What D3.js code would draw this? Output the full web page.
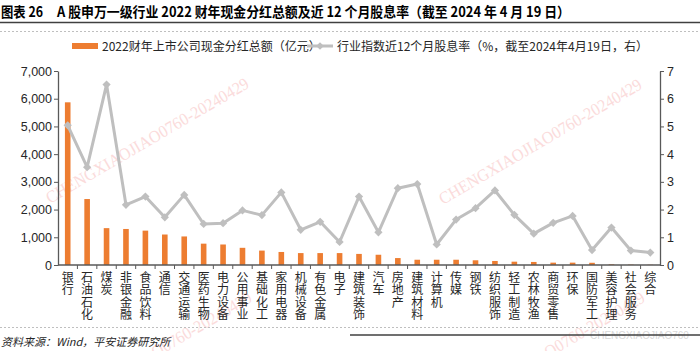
<!DOCTYPE html>
<html>
<head>
<meta charset="utf-8">
<script src="https://cdn.jsdelivr.net/npm/d3@7"></script>
<style>
  body { margin: 0; background: white; }
  svg { display: block; font-family: "Noto Sans CJK SC", "Noto Sans", sans-serif; }
</style>
</head>
<body>
<div id="container"></div>
<script>
let w = 700;
let h = 351;

// data
let industries = ["银行","石油石化","煤炭","非银金融","食品饮料","通信","交通运输","医药生物","电力设备","公用事业",
  "基础化工","家用电器","机械设备","有色金属","电子","建筑装饰","汽车","房地产","建筑材料","计算机",
  "传媒","钢铁","纺织服饰","轻工制造","农林牧渔","商贸零售","环保","国防军工","美容护理","社会服务","综合"];
let dividends = [5870,2380,1330,1300,1240,1100,1030,770,740,620,
  520,470,430,430,430,400,370,250,190,190,
  190,170,145,120,110,85,85,80,25,15,10];
let yields = [5.04,3.53,6.51,2.17,2.47,1.72,2.53,1.48,1.51,1.97,
  1.80,2.62,1.27,1.56,0.83,2.47,1.18,2.77,2.92,0.74,
  1.64,2.05,2.69,1.81,1.13,1.52,1.77,0.54,1.35,0.52,0.45];
let leftTicks = [0,1000,2000,3000,4000,5000,6000,7000];
let rightTicks = [0,1,2,3,4,5,6,7];

let titleNo = "图表 26";
let titleText = "A 股申万一级行业 2022 财年现金分红总额及近 12 个月股息率（截至 2024 年 4 月 19 日）";
let legendBar = "2022财年上市公司现金分红总额（亿元）";
let legendLine = "行业指数近12个月股息率（%，截至2024年4月19日，右）";
let sourceText = "资料来源：Wind，平安证券研究所";
let wmText = "CHENGXIAOJIAO0760-20240429";

let orange = "#ED7D31";
let grey = "#BFBFBF";
let axisColor = "#595959";

let viz = d3.select("#container")
  .append("svg")
    .attr("width", w)
    .attr("height", h)
;

// header
viz.append("text")
  .attr("x", 1).attr("y", 17)
  .attr("font-size", 14).attr("font-weight", "bold")
  .attr("textLength", 42).attr("lengthAdjust", "spacingAndGlyphs")
  .attr("fill", "#000")
  .text(titleNo);
viz.append("text")
  .attr("x", 57).attr("y", 17)
  .attr("font-size", 14).attr("font-weight", "bold")
  .attr("textLength", 513).attr("lengthAdjust", "spacingAndGlyphs")
  .attr("fill", "#000")
  .text(titleText);
viz.append("line").attr("x1", 0).attr("x2", w).attr("y1", 22.5).attr("y2", 22.5)
  .attr("stroke", "#404040").attr("stroke-width", 1.5);
viz.append("line").attr("x1", 0).attr("x2", w).attr("y1", 31.5).attr("y2", 31.5)
  .attr("stroke", "#BFBFBF").attr("stroke-dasharray", "2,2");

// scales
let x = d3.scaleBand().domain(industries).range([58, 660]);
let yL = d3.scaleLinear().domain([0, 7000]).range([265, 71]);
let yR = d3.scaleLinear().domain([0, 7]).range([265, 71]);

// watermarks
let wmSpots = [[50, 204], [443, 205], [53, 418], [446, 418]];
viz.selectAll(".wm").data(wmSpots).enter()
  .append("text")
    .classed("wm", true)
    .attr("transform", d => "translate(" + d[0] + "," + d[1] + ") rotate(-30.3)")
    .attr("font-family", "Liberation Serif, serif")
    .attr("font-size", 17)
    .attr("textLength", 232).attr("lengthAdjust", "spacingAndGlyphs")
    .attr("fill", "#F9C4C4").attr("opacity", 0.6)
    .text(wmText);

// bars
viz.selectAll(".bar").data(dividends).enter()
  .append("rect")
    .classed("bar", true)
    .attr("x", (d, i) => x(industries[i]) + x.bandwidth() / 2 - 2.8)
    .attr("width", 5.6)
    .attr("y", d => yL(d))
    .attr("height", d => yL(0) - yL(d))
    .attr("fill", orange);

// line
let line = d3.line()
  .x((d, i) => x(industries[i]) + x.bandwidth() / 2)
  .y(d => yR(d));
viz.append("path")
  .datum(yields)
  .attr("d", line)
  .attr("fill", "none")
  .attr("stroke", grey)
  .attr("stroke-width", 3)
  .attr("stroke-linejoin", "round");
viz.selectAll(".mark").data(yields).enter()
  .append("path")
    .classed("mark", true)
    .attr("d", d3.symbol(d3.symbolSquare, 34))
    .attr("transform", (d, i) => "translate(" + (x(industries[i]) + x.bandwidth() / 2) + "," + yR(d) + ") rotate(45)")
    .attr("fill", grey);

// axes
let leftAxis = viz.append("g")
  .attr("transform", "translate(58,0)")
  .call(d3.axisLeft(yL).tickValues(leftTicks).tickFormat(d3.format(",")).tickSize(4).tickSizeOuter(0));
let rightAxis = viz.append("g")
  .attr("transform", "translate(660,0)")
  .call(d3.axisRight(yR).tickValues(rightTicks).tickFormat(d3.format("d")).tickSize(4).tickSizeOuter(0));
[leftAxis, rightAxis].forEach(function(g){
  g.select(".domain").attr("stroke", axisColor).attr("stroke-width", 1.3);
  g.selectAll(".tick line").attr("stroke", axisColor);
  g.selectAll(".tick text")
    .attr("font-family", "Liberation Sans, Arial, sans-serif")
    .attr("font-size", 12.5)
    .attr("fill", "#262626");
});
leftAxis.selectAll(".tick text").attr("x", -6);
rightAxis.selectAll(".tick text").attr("x", 7);

// x axis
viz.append("line").attr("x1", 58).attr("x2", 660).attr("y1", 265).attr("y2", 265)
  .attr("stroke", axisColor).attr("stroke-width", 1.3);
viz.selectAll(".xtick").data(industries.slice(1)).enter()
  .append("line")
    .classed("xtick", true)
    .attr("x1", d => x(d)).attr("x2", d => x(d))
    .attr("y1", 265).attr("y2", 269)
    .attr("stroke", axisColor);

let labels = viz.selectAll(".xlabel").data(industries).enter()
  .append("text")
    .classed("xlabel", true)
    .attr("font-size", 12)
    .attr("fill", "#262626")
    .attr("text-anchor", "middle");
labels.selectAll("tspan")
  .data(d => d.split("").map(c => ({c: c, name: d})))
  .enter()
  .append("tspan")
    .attr("x", d => x(d.name) + x.bandwidth() / 2)
    .attr("y", (d, j) => 281.5 + j * 12.6)
    .text(d => d.c);

// legend
viz.append("rect").attr("x", 72).attr("y", 43).attr("width", 26).attr("height", 6).attr("fill", orange);
viz.append("text").attr("x", 102).attr("y", 50.5).attr("font-size", 12).attr("fill", "#262626")
  .text(legendBar);
viz.append("line").attr("x1", 307).attr("x2", 333).attr("y1", 46).attr("y2", 46)
  .attr("stroke", grey).attr("stroke-width", 3);
viz.append("path").attr("d", d3.symbol(d3.symbolSquare, 30))
  .attr("transform", "translate(320,46) rotate(45)").attr("fill", grey);
viz.append("text").attr("x", 337).attr("y", 50.5).attr("font-size", 12).attr("fill", "#262626")
  .text(legendLine);

// footer
viz.append("line").attr("x1", 0).attr("x2", w).attr("y1", 327.5).attr("y2", 327.5)
  .attr("stroke", "#BFBFBF").attr("stroke-dasharray", "2,2");
viz.append("text").attr("x", 590).attr("y", 339).attr("font-size", 10)
  .attr("font-family", "Liberation Sans, sans-serif")
  .attr("fill", "#D9D9D9").text("CHENGXIAOJIAO760");
viz.append("line").attr("x1", 350).attr("x2", w).attr("y1", 335).attr("y2", 335)
  .attr("stroke", "#404040").attr("stroke-width", 1.5);
viz.append("text").attr("x", 1).attr("y", 346).attr("font-size", 11)
  .attr("font-style", "italic").attr("fill", "#262626")
  .text(sourceText);
</script>
</body>
</html>
